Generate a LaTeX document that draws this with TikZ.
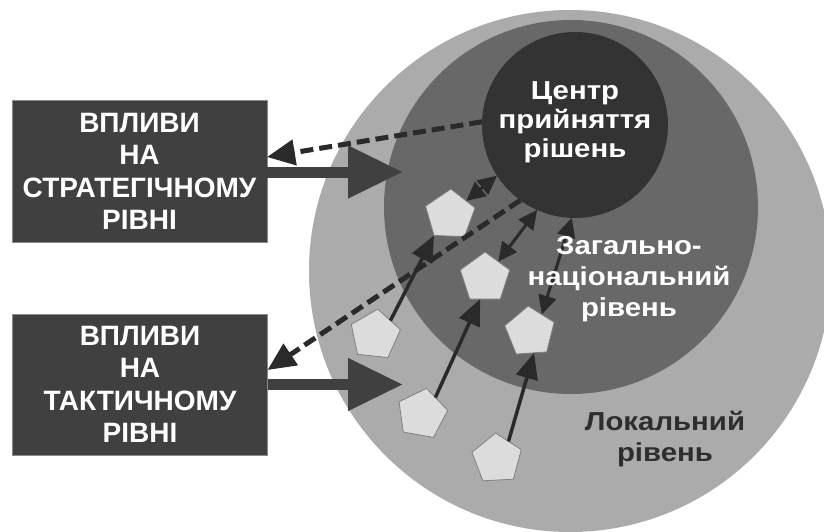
\documentclass[tikz,border=0pt]{standalone}
\usepackage{fontspec}
\setmainfont{Liberation Sans}
\newfontfamily\lblfont[FakeStretch=1.13]{Liberation Sans}
\usetikzlibrary{arrows.meta,shapes.geometric}
\definecolor{outerc}{HTML}{ABABAB}
\definecolor{midc}{HTML}{686868}
\definecolor{innerc}{HTML}{333333}
\definecolor{boxc}{HTML}{404040}
\definecolor{boxedge}{HTML}{8A8A8A}
\definecolor{bigc}{HTML}{404040}
\definecolor{arrc}{HTML}{2A2A2A}
\definecolor{pentc}{HTML}{DCDCDC}
\definecolor{pentedge}{HTML}{808080}
\definecolor{loctext}{HTML}{2E2E2E}
\begin{document}
\begin{tikzpicture}[x=1pt,y=-1pt,
  every node/.style={inner sep=0pt,outer sep=0pt},
  boxst/.style={fill=boxc,draw=boxedge,line width=1pt,minimum width=255pt,minimum height=141pt,text=white,align=center,font=\fontsize{28}{32.5}\selectfont\bfseries},
  ring/.style={circle,draw=none},
  penta/.style={regular polygon,regular polygon sides=5,minimum size=52pt,fill=pentc,draw=pentedge,line width=0.8pt},
  bigarrow/.style={draw=bigc,line width=11pt,-{Triangle[length=55pt,width=50pt]}},
  dasharrow/.style={draw=arrc,line width=5pt,dash pattern=on 13pt off 6pt,-{Triangle[length=28pt,width=25pt]}},
  thinarrow/.style={draw=arrc,line width=3.5pt,-{Triangle[length=26pt,width=22pt]}},
  dblarrow/.style={draw=arrc,line width=3pt,{Triangle[length=19pt,width=18pt]}-{Triangle[length=19pt,width=18pt]}},
  lbl/.style={align=center,font=\lblfont\fontsize{26}{31}\selectfont\bfseries}
]
\useasboundingbox (0,0) rectangle (824,532);
% circles
\node[ring,fill=outerc,minimum size=522pt] (outer) at (570,271) {};
\node[ring,fill=midc,minimum size=374pt] (mid) at (571,207) {};
\node[ring,fill=innerc,minimum size=186pt] (ctr) at (575,125) {};
% boxes
\node[boxst] (b1) at (139.5,171.5) {ВПЛИВИ\\НА\\СТРАТЕГІЧНОМУ\\РІВНІ};
\node[boxst] (b2) at (140,384.5) {ВПЛИВИ\\НА\\ТАКТИЧНОМУ\\РІВНІ};
% big arrows
\coordinate (t1) at (403,172);
\coordinate (t2) at (403,384.5);
\draw[bigarrow] (b1.east |- t1) -- (t1);
\draw[bigarrow] (b2.east |- t2) -- (t2);
% pentagons
\node[penta,shape border rotate=-2] (p1) at (450,215) {};
\node[penta,shape border rotate=0] (p2) at (485,278) {};
\node[penta,shape border rotate=4] (p3) at (530,332) {};
\node[penta,shape border rotate=-6] (p4) at (375,335) {};
\node[penta,shape border rotate=-10] (p5) at (422,414) {};
\node[penta,shape border rotate=3] (p6) at (497,459) {};
% thin arrows from local to national
\draw[thinarrow] (p4.43) -- (p1.232);
\draw[thinarrow] (p5.51) -- (p2.257);
\draw[thinarrow] (p6.57) -- (p3.281);
% double arrows to centre
\draw[dblarrow] (p1.41) -- (ctr.213.5);
\draw[dblarrow] (p2.51) -- (ctr.246.5);
\draw[dblarrow] (p3.56) -- (ctr.268.8);
% dashed feedback arrows
\draw[dasharrow] (ctr.178.8) -- ([yshift=14.5pt]b1.east);
\draw[dasharrow] (ctr.234.8) -- ([yshift=14.5pt]b2.east);
% labels
\node[lbl,text=white] (ctrtext) at (575,122) {Центр\\[-2pt]прийняття\\[-2pt]рішень};
\node[lbl,text=white] (midtext) at (629,279) {Загально-\\національний\\рівень};
\node[lbl,text=loctext] (loctext) at (665,439) {Локальний\\рівень};
\end{tikzpicture}
\end{document}
